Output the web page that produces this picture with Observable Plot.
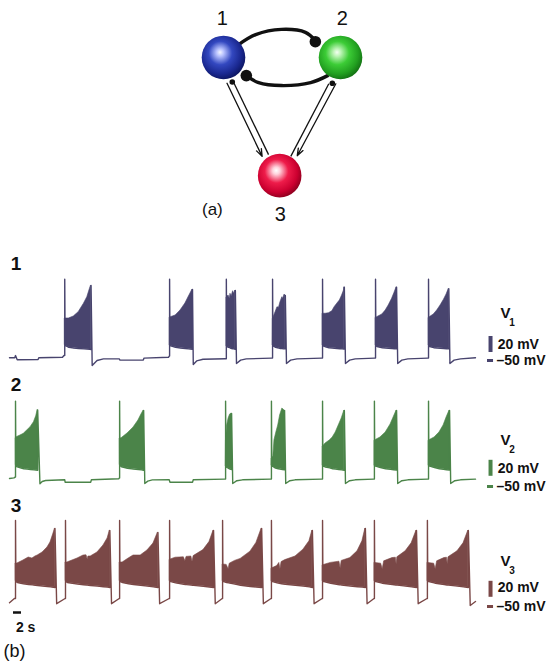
<!DOCTYPE html>
<html><head><meta charset="utf-8">
<script src="https://cdn.jsdelivr.net/npm/d3@7"></script>
<script src="https://cdn.jsdelivr.net/npm/@observablehq/plot@0.6"></script>
<style>
html,body{margin:0;padding:0;background:#fff;}
#chart{width:554px;}
#chart svg{display:block;}
</style></head><body><div id="chart"></div>
<script>
// ===================== (a) network diagram data (diagram units) =====================
const nodeIds = ["1", "2", "3"];
const nodeX = [-1, 1, -0.04];
const nodeY = [0, 0, 2.02];
const nodeLabelX = [-1.02, 1.03, -0.03];
const nodeLabelY = [-0.67, -0.67, 2.68];
const panelALabel = ["(a)", -1.19, 2.6];
const upperArc = [[-0.74, -0.22], [-0.45, -0.39], [-0.01, -0.48], [0.40, -0.43], [0.57, -0.29]];
const lowerArc = [[0.78, 0.31], [0.49, 0.43], [-0.01, 0.48], [-0.40, 0.43], [-0.61, 0.31]];
const inhibitoryDots = [[0.57, -0.27], [-0.61, 0.31]];
// synapses onto neuron 3: [x1, y1, x2, y2]
const arrowLinks = [[-0.94, 0.44, -0.34, 1.69], [0.92, 0.45, 0.26, 1.68]];
const plainLinks = [[-0.82, 0.44, -0.23, 1.66], [0.80, 0.45, 0.15, 1.69]];
const smallDots = [[-0.85, 0.42], [0.86, 0.44]];

// ===================== (b) voltage traces: time (s), voltage (mV) =====================
const traceNames = ["1", "2", "3"];
// ---- neuron 1 ----
const v1Baseline = [[0, -47.1], [1.4, -47], [1.6, -44.3], [2.05, -49.6], [7.6, -49.3], [7.8, -47.1], [14.1, -46.5], [14.5, -44.3],
  [22.0, -56.75], [23.3, -50.5], [25.0, -48.5], [29.2, -48.5], [29.4, -50], [35.6, -50], [35.8, -47.5], [42.3, -46.5], [42.5, -45],
  [48.9, -55.5], [49.8, -51], [51.5, -49], [57.5, -48.3],
  [60.4, -54.25], [61.5, -50], [63, -48.5], [69.8, -47.5],
  [73.7, -54.25], [74.8, -50], [76.5, -48.5], [83.1, -47.5],
  [89.4, -54.25], [90.5, -50], [92, -48.5], [97.2, -47.5],
  [103.3, -54.25], [104.4, -50], [106, -48.5], [111.3, -47.5],
  [117.2, -54.25], [118.3, -50], [120, -48.5], [124, -47]];
const v1Onsets = [14.7, 42.6, 57.7, 70.0, 83.3, 97.4, 111.5];
const v1Peaks = [51, 51, 51, 51, 51, 51, 51];
// each burst: rows of [t, lower envelope, upper envelope]
const v1Bursts = [
  [[14.8, -31.5, 2], [15.8, -34, 2], [17.1, -35, 4.5], [18.4, -35.5, 9.9], [19.8, -36, 20.4], [20.7, -36.3, 28.6], [21.4, -36.6, 39.1], [21.7, -36.75, 43.25]],
  [[42.7, -32, 3.25], [44.2, -34, 5.75], [45.5, -35, 12], [46.8, -35.5, 20.75], [47.6, -36, 28.25], [48.7, -36.5, 38.25]],
  [[57.8, -33, 28.6], [58.3, -34, 30.75], [58.6, -34.5, 26.6], [58.8, -35, 32.9], [59.1, -35.5, 29.5], [59.5, -36, 36.1], [59.7, -36, 32.9], [60.1, -36.5, 37]],
  [[70.1, -32, 1.6], [70.8, -34, 9.9], [71.3, -34.5, 16.1], [71.7, -35, 15.4], [72.1, -35.5, 22.4], [72.6, -35.5, 28.6], [72.8, -36, 26.6], [73.2, -36, 32], [73.4, -36, 30.75]],
  [[83.4, -32, 8], [84.1, -33.5, 7.9], [85.0, -34.5, 8.6], [85.9, -35, 11.1], [86.5, -35.3, 16.1], [87.2, -35.6, 20.4], [87.9, -35.8, 24.5], [88.5, -36, 30.75], [89.0, -36.2, 37], [89.1, -36.2, 41.1]],
  [[97.5, -32, 3], [97.8, -33, 3.6], [99.2, -34.5, 7], [100.1, -35, 12], [100.9, -35.3, 18.25], [101.8, -35.6, 26.6], [102.4, -35.8, 33.6], [103.0, -36, 41.1]],
  [[111.6, -32, 3], [111.8, -33, 3.6], [112.9, -34.5, 7], [113.8, -35, 12], [114.7, -35.3, 18.25], [115.6, -35.6, 25.4], [116.3, -35.8, 32], [116.9, -36, 39.1]]
];
// ---- neuron 2 ----
const v2Baseline = [[0, -46.75], [1.2, -46], [1.5, -45],
  [8.1, -53.4], [8.7, -50.5], [9.6, -49.25], [14.7, -48.4], [14.8, -51.4], [21.6, -51.4], [21.8, -48.4], [29.1, -47.1], [29.2, -46],
  [36.0, -53], [36.8, -50], [38, -48.5], [42.5, -48.4], [42.7, -51.4], [48.7, -51.4], [48.9, -48.4], [57.3, -47.5],
  [59.4, -53], [60.5, -49.5], [62, -48.4], [69.5, -47.5],
  [73.5, -53], [74.6, -49.5], [76, -48.4], [83.1, -47.5],
  [89.4, -53], [90.5, -49.5], [92, -48.4], [96.9, -47.5],
  [103.3, -53], [104.4, -49.5], [106, -48.4], [111.3, -47.5],
  [117.4, -53], [118.5, -49.5], [120, -48.4], [124, -47.5]];
const v2Onsets = [1.6, 29.3, 57.5, 69.7, 83.3, 97.1, 111.5];
const v2Peaks = [50, 50, 50, 50, 50, 50, 50];
const v2Bursts = [
  [[1.7, -30, 4], [1.9, -32, 4.9], [2.9, -33.5, 7], [3.8, -34.5, 9.1], [4.7, -35, 13.25], [5.6, -35.5, 17.4], [6.5, -36, 23.6], [7.1, -36.3, 31], [7.5, -36.5, 39]],
  [[29.4, -30, 3.25], [29.8, -32, 3.5], [31.4, -34, 9.5], [33.0, -35, 17], [34.3, -35.5, 25.75], [35.1, -36, 33.25], [35.7, -36.5, 38.25]],
  [[57.6, -32, 0.75], [57.9, -33, 19.5], [58.3, -34, 28.25], [58.7, -35, 33.25], [59.1, -35.5, 34.5]],
  [[69.8, -31, -21.75], [70.2, -32, -19], [70.5, -33, 1], [71.0, -34, 10.75], [71.5, -34.5, 19.5], [72.0, -35, 32], [72.6, -35.5, 40.75], [73.2, -36, 38.25]],
  [[83.4, -31, -6.75], [84.1, -32.5, -3], [85.2, -33.5, 0.75], [86.0, -34.5, 4.5], [86.8, -35, 10.75], [87.6, -35.5, 19.5], [88.4, -36, 28.25], [89.1, -36.5, 38.25]],
  [[97.2, -31, 0.75], [98.7, -33, 4.5], [100.1, -34.5, 10.75], [101.4, -35.3, 20.75], [102.2, -35.8, 29.5], [103.0, -36.3, 38.25]],
  [[111.6, -31, 0.75], [113.1, -33, 4.5], [114.4, -34.5, 10.75], [115.5, -35.3, 19.5], [116.3, -35.8, 29.5], [117.1, -36.3, 38.25]]
];
// ---- neuron 3 ----
const v3Baseline = [[0, -50.9], [1.3, -45.5],
  [12.55, -52], [14.8, -45.5], [27.15, -52], [29.2, -45.5], [39.95, -52], [42.5, -45.5], [54.75, -52], [56.6, -45.5],
  [67.55, -52], [69.6, -45.5], [81.05, -52], [83.2, -45.5], [95.15, -52], [97.0, -45.5], [108.75, -52], [111.1, -45.5],
  [122.6, -54.25], [124, -49.25]];
const v3Onsets = [1.6, 14.9, 29.3, 42.6, 56.7, 69.7, 83.3, 97.1, 111.2];
const v3Peaks = [52, 52, 52, 52, 52, 52, 52, 52, 52];
const v3Bursts = [
  [[1.7, -24, -1.75], [2.1, -25.5, -1.75], [3.7, -27, 2], [5.1, -28, 5.75], [6.1, -28.5, 4.5], [6.9, -29, 7], [7.5, -29.3, 8.25], [8.8, -30, 12], [10.1, -30.5, 18.25], [10.9, -31, 24.5], [11.7, -31.5, 35.75], [12.1, -31.75, 42]],
  [[15.0, -24, -0.5], [15.4, -25.5, -0.5], [18.1, -27.5, 4.5], [19.7, -28.3, 8.25], [20.5, -28.7, 8.5], [20.8, -28.8, 3], [21.0, -29, 7], [21.6, -29.2, 7], [23.4, -30, 12], [25.0, -30.8, 20.75], [26.1, -31.3, 29.5], [26.7, -31.75, 39.5]],
  [[29.4, -24, -0.5], [30.1, -25.5, -0.5], [31.7, -27, 4.5], [33.0, -28, 8.25], [34.9, -29, 8.25], [36.7, -30, 14.5], [38.3, -31, 23.25], [39.5, -31.75, 37]],
  [[42.7, -24, 3], [44.2, -26, 5.5], [46.4, -27.8, 6], [46.8, -28, 1], [47.1, -28.1, 6.5], [48.4, -28.8, 7], [48.7, -29, 0], [49.0, -29.1, 7.5], [51.6, -30.3, 15], [53.2, -31.2, 25], [54.3, -31.75, 39.5]],
  [[56.8, -24, -3], [57.8, -25.5, -3.5], [58.3, -26, -9], [58.6, -26.3, -2], [60.0, -27.5, 1.5], [61.5, -29, 4], [64.1, -30.5, 13], [65.7, -31.2, 24], [67.1, -31.75, 42]],
  [[69.8, -24, -8], [71.2, -26, -5], [71.8, -26.5, -1], [72.1, -26.8, -9], [72.4, -27, 0], [73.4, -27.8, 2.5], [76.1, -29, 7], [78.2, -30, 15.5], [79.8, -31, 26], [80.6, -31.75, 39.5]],
  [[83.4, -24, -4], [85.5, -26.5, -1], [87.8, -28.3, 0.5], [88.1, -28.5, -8], [88.4, -28.7, 1.5], [90.7, -30, 5], [92.6, -30.8, 13.5], [93.9, -31.3, 26], [94.7, -31.75, 42]],
  [[97.2, -24, -1], [98.9, -26, -2], [99.3, -26.5, -9], [99.7, -26.8, 1], [101.9, -28, 5], [102.8, -28.6, 5.5], [103.0, -28.7, -3], [103.2, -28.8, 6], [105.4, -30, 13.5], [107.0, -31, 23.5], [108.3, -31.75, 39.5]],
  [[111.3, -24, -1], [113.0, -26, -2], [113.4, -26.5, -9], [113.8, -26.8, 1], [115.7, -28, 5], [116.4, -28.6, 5.5], [116.6, -28.7, -3], [116.8, -28.8, 6], [119.2, -30, 13.5], [120.8, -31, 23.5], [122.1, -31.75, 39.5]]
];
// scale annotations (mV) per trace
const scaleBarLow = [-40.5, -44, -44];
const scaleBarHigh = [-20.5, -24, -24];
const scaleText20 = [-30.5, -34.25, -31.75];
const scaleMinus50 = [-50.5, -56.75, -55.5];
const vLabelY = [8.25, 0.75, 0.75];
const scaleTexts = ["20 mV", "\u201350 mV"];
const timeBar = [1.06, 3.19];   // a 2 s bar
const timeBarLabel = "2 s";
const panelBLabel = "(b)";

// ===================== helpers =====================
const FONT = "Liberation Sans, Arial, Helvetica, sans-serif";
const colors = ["#48446e", "#4b8449", "#7a4847"];

function buildLine(baseline, onsets, peaks, bursts) {
  const pts = [];
  let bi = 0;
  const pushBurst = (i) => {
    pts.push([onsets[i], pts.length ? pts[pts.length - 1][1] : -45]);
    pts.push([onsets[i], peaks[i]]);
    for (const r of bursts[i]) pts.push([r[0], r[1]]);
    const last = bursts[i][bursts[i].length - 1];
    pts.push([last[0], last[2]]);
  };
  for (const p of baseline) {
    while (bi < onsets.length && onsets[bi] < p[0]) { pushBurst(bi); bi++; }
    pts.push(p);
  }
  while (bi < onsets.length) { pushBurst(bi); bi++; }
  return pts.map(([t, v]) => ({t, v}));
}
function buildArea(bursts) {
  const rows = [];
  bursts.forEach((b, i) => b.forEach(r => rows.push({t: r[0], lo: r[1], hi: r[2], b: i})));
  return rows;
}

// ===================== panel (a) =====================
const nodes = nodeIds.map((id, i) => ({id, x: nodeX[i], y: nodeY[i], lx: nodeLabelX[i], ly: nodeLabelY[i]}));
const gradId = {"1": "url(#gBlue)", "2": "url(#gGreen)", "3": "url(#gRed)"};
const arcU = upperArc.map(([x, y]) => ({x, y}));
const arcL = lowerArc.map(([x, y]) => ({x, y}));

const plotA = Plot.plot({
  width: 554, height: 235, margin: 0,
  x: {domain: [-4.812, 4.658], axis: null},
  y: {domain: [-0.974, 3.043], reverse: true, axis: null},
  style: {background: "white", overflow: "visible"},
  marks: [
    Plot.line(arcU, {x: "x", y: "y", curve: "catmull-rom", stroke: "#111", strokeWidth: 3.4}),
    Plot.line(arcL, {x: "x", y: "y", curve: "catmull-rom", stroke: "#111", strokeWidth: 3.4}),
    Plot.dot(inhibitoryDots, {x: d => d[0], y: d => d[1], r: 5.8, fill: "#111"}),
    Plot.link(plainLinks, {x1: d => d[0], y1: d => d[1], x2: d => d[2], y2: d => d[3], stroke: "#111", strokeWidth: 1.3}),
    Plot.arrow(arrowLinks, {x1: d => d[0], y1: d => d[1], x2: d => d[2], y2: d => d[3], stroke: "#111", strokeWidth: 1.3, headLength: 9, headAngle: 40}),
    Plot.dot(smallDots, {x: d => d[0], y: d => d[1], r: 2.8, fill: "#111"}),
    ...nodeIds.map(id => Plot.dot(nodes.filter(d => d.id === id), {x: "x", y: "y", r: 21.8, fill: gradId[id]})),
    Plot.text(nodes, {x: "lx", y: "ly", text: "id", fontSize: 20, fontFamily: FONT, fill: "#111"}),
    Plot.text([panelALabel], {x: d => d[1], y: d => d[2], text: d => d[0], fontSize: 17, fontFamily: FONT, fill: "#111"})
  ]
});
// sphere shading gradients
{
  const defs = d3.select(plotA).insert("defs", ":first-child");
  const grads = [
    ["gBlue", [["0%", "#f4f6ff"], ["14%", "#b9c3ff"], ["45%", "#3348c0"], ["78%", "#1a2890"], ["100%", "#0c1560"]]],
    ["gGreen", [["0%", "#f4fff2"], ["14%", "#bff5b8"], ["45%", "#3ccc36"], ["78%", "#22a020"], ["100%", "#137013"]]],
    ["gRed", [["0%", "#ffffff"], ["14%", "#ffd2dc"], ["45%", "#ee1c4a"], ["78%", "#cc0030"], ["100%", "#8c001e"]]]
  ];
  for (const [id, stops] of grads) {
    const g = defs.append("radialGradient").attr("id", id)
      .attr("cx", "0.44").attr("cy", "0.42").attr("r", "0.6").attr("fx", "0.42").attr("fy", "0.38");
    for (const [o, c] of stops) g.append("stop").attr("offset", o).attr("stop-color", c);
  }
}
document.getElementById("chart").append(plotA);

// ===================== panel (b) =====================
const traces = [
  {line: buildLine(v1Baseline, v1Onsets, v1Peaks, v1Bursts), area: buildArea(v1Bursts)},
  {line: buildLine(v2Baseline, v2Onsets, v2Peaks, v2Bursts), area: buildArea(v2Bursts)},
  {line: buildLine(v3Baseline, v3Onsets, v3Peaks, v3Bursts), area: buildArea(v3Bursts)}
];
const heights = [136, 121, 173];
const mTop = [15, 0, 0];
const mBottom = [0, 0, 52];

traces.forEach((tr, k) => {
  const c = colors[k];
  const marks = [
    Plot.line(tr.line, {x: "t", y: "v", stroke: c, strokeWidth: 1.4, curve: "linear"}),
    Plot.areaY(tr.area, {x: "t", y1: "lo", y2: "hi", z: "b", fill: c, stroke: c, strokeWidth: 0.6, curve: "linear"}),
    Plot.text([traceNames[k]], {x: 0.3, y: 70, text: d => d, textAnchor: "start", fontSize: 19, fontWeight: "bold", fontFamily: FONT, fill: "#111"}),
    // V_k label
    Plot.text(["V"], {x: 132.0, y: vLabelY[k], text: d => d, fontSize: 15, fontWeight: "bold", fontFamily: FONT, fill: "#111"}),
    Plot.text([traceNames[k]], {x: 133.7, y: vLabelY[k] - 12, text: d => d, fontSize: 10, fontWeight: "bold", fontFamily: FONT, fill: "#111"}),
    // 20 mV bar
    Plot.ruleX([128.0], {y1: scaleBarLow[k], y2: scaleBarHigh[k], stroke: c, strokeWidth: 4}),
    Plot.text([scaleTexts[0]], {x: 129.9, y: scaleText20[k], text: d => d, textAnchor: "start", fontSize: 14, fontWeight: "bold", fontFamily: FONT, fill: "#111"}),
    // -50 mV marker
    Plot.ruleY([scaleMinus50[k]], {x1: 127.2, x2: 128.8, stroke: c, strokeWidth: 3}),
    Plot.text([scaleTexts[1]], {x: 129.6, y: scaleMinus50[k], text: d => d, textAnchor: "start", fontSize: 14, fontWeight: "bold", fontFamily: FONT, fill: "#111"})
  ];
  if (k === 2) {
    marks.push(
      Plot.ruleY([-63], {x1: timeBar[0], x2: timeBar[1], stroke: "#111", strokeWidth: 2.5}),
      Plot.text([timeBarLabel], {x: 4.3, y: -81.5, text: d => d, fontSize: 14, fontWeight: "bold", fontFamily: FONT, fill: "#111"}),
      Plot.text([panelBLabel], {x: -1.6, y: -112, text: d => d, textAnchor: "start", fontSize: 18, fontFamily: FONT, fill: "#111"})
    );
  }
  const p = Plot.plot({
    width: 554, height: heights[k], marginTop: mTop[k], marginBottom: mBottom[k], marginLeft: 9, marginRight: 79,
    x: {domain: [0, 124], axis: null},
    y: {domain: [-64.25, 87], axis: null},
    style: {background: "white", overflow: "visible"},
    marks
  });
  document.getElementById("chart").append(p);
});
</script></body></html>
